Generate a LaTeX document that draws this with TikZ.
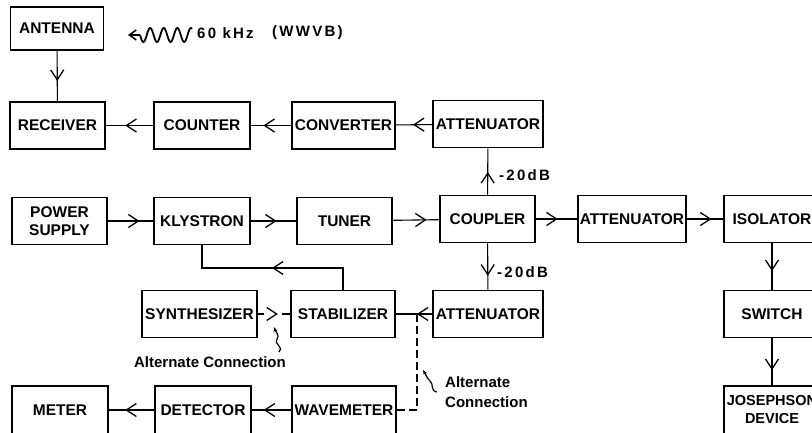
\documentclass[tikz,border=0pt]{standalone}
\usepackage{fontspec}
\setmainfont{Liberation Sans}
\newfontfamily\boxfont{Liberation Sans Bold}
\newfontfamily\lblfont[LetterSpace=15]{Liberation Sans Bold}
\newfontfamily\altfont{Liberation Sans Bold}
\usetikzlibrary{arrows.meta,decorations.markings}
\tikzset{
  box/.style={draw, line width=1.8pt, minimum height=47pt, inner sep=0pt, align=center,
    font=\boxfont\fontsize{15.5}{18}\selectfont},
  conn/.style={line width=1.1pt},
  arr/.style={postaction={decorate}, decoration={markings,
    mark=at position #1 with {\arrow{Straight Barb[length=10pt,width=13pt,line width=1.3pt]}}}},
  arr/.default=0.62,
  lbl/.style={inner sep=0pt, font=\lblfont\fontsize{15}{18}\selectfont},
  alt/.style={inner sep=0pt, align=left, font=\altfont\fontsize{15}{20}\selectfont},
}
\begin{document}
\begin{tikzpicture}[x=1pt,y=-1pt]
\useasboundingbox (0,0) rectangle (812,433);
% row 1
\node[box, minimum width=93pt, minimum height=43pt] (ant) at (57,28.5) {ANTENNA};
% row 2
\node[box, minimum width=95pt] (rec) at (57.5,125.5) {RECEIVER};
\node[box, minimum width=96pt] (cnt) at (202,125.5) {COUNTER};
\node[box, minimum width=103pt] (cnv) at (343.5,125.5) {CONVERTER};
\node[box, minimum width=110pt] (att1) at (488,124) {ATTENUATOR};
% row 3
\node[box, minimum width=95pt] (pow) at (59.5,221) {POWER\\SUPPLY};
\node[box, minimum width=96pt] (kly) at (202,221) {KLYSTRON};
\node[box, minimum width=95pt] (tun) at (344.5,221) {TUNER};
\node[box, minimum width=95pt] (cpl) at (487.5,219) {COUPLER};
\node[box, minimum width=108pt] (att2) at (632,219) {ATTENUATOR};
\node[box, minimum width=96pt] (iso) at (772,219) {ISOLATOR};
% row 4
\node[box, minimum width=115pt] (syn) at (199.5,314) {SYNTHESIZER};
\node[box, minimum width=104pt] (stb) at (343,314) {STABILIZER};
\node[box, minimum width=110pt] (att3) at (488,314) {ATTENUATOR};
\node[box, minimum width=96pt] (swi) at (772,314) {SWITCH};
% row 5
\node[box, minimum width=96pt, minimum height=48pt] (met) at (60,410) {METER};
\node[box, minimum width=96pt, minimum height=48pt] (det) at (203,410) {DETECTOR};
\node[box, minimum width=104pt, minimum height=48pt] (wav) at (344,410) {WAVEMETER};
\node[box, minimum width=96pt, minimum height=48pt, font=\boxfont\fontsize{14.5}{18}\selectfont] (jos) at (772,410) {JOSEPHSON\\DEVICE};

% WWVB signal
\coordinate (wvtip) at (128,35);
\coordinate (wvs) at (140,35);
\draw[conn, -{Straight Barb[length=7pt,width=10pt,line width=1.5pt]}] (wvs) -- (wvtip);
\draw[line width=1.8pt] plot[domain=0:52, samples=120, smooth] ({140+\x},{35+7*sin(\x*26.5)});
\node[lbl, anchor=west] (f60) at (197,33) {60 kHz};
\node[lbl, anchor=west] (wwvb) at (272,33) {(WWVB)};

% connectors
\draw[conn, arr=0.6] (ant) -- (rec);
\draw[conn, arr=0.59] (cnt) -- (rec);
\draw[conn, arr=0.69] (cnv) -- (cnt);
\draw[conn, arr=0.53] (att1) -- (cnv);
\draw[conn, arr=0.7] (pow) -- (kly);
\draw[conn, arr=0.57] (kly) -- (tun);
\draw[conn, arr=0.73] (tun) -- (cpl);
\draw[conn, arr=0.53] (cpl) -- (att2);
\draw[conn, arr=0.68] (att2) -- (iso);
\draw[conn, arr=0.49] (cpl) -- (att1);
\draw[conn, arr=0.7] (cpl) -- (att3);
\draw[conn, arr=0.6] (iso) -- (swi);
\draw[conn, arr=0.68] (swi) -- (jos);
\draw[conn, arr=0.42] (att3) -- (stb);
\draw[conn, arr=0.62, dash pattern=on 6pt off 18pt on 12pt] (syn) -- (stb);
\coordinate (fb) at (0,268);
\draw[conn, arr=0.5] (stb.north) -- (stb.north |- fb) -- (kly.south |- fb) -- (kly.south);
\draw[conn, arr=0.64] (det) -- (met);
\draw[conn, arr=0.7] (wav) -- (det);
\coordinate (jn) at (417,314);
\draw[line width=1.5pt, dash pattern=on 8pt off 4pt] (wav.east) -| (jn);

% labels
\node[lbl, anchor=west] (db1) at (499,175) {-20dB};
\node[lbl, anchor=west] (db2) at (497,272) {-20dB};
\node[alt, anchor=center] (alt1) at (210,362) {Alternate Connection};
\node[alt, anchor=west] (alt2) at (445,392) {Alternate\\Connection};

% squiggle pointers
\coordinate (p1t) at (279,352);
\coordinate (p1h) at (274,327);
\draw[line width=1.2pt, -{Stealth[length=5pt,width=4pt]}] (p1t) .. controls (284,346) and (273,344) .. (277,339) .. controls (280,335) and (276,333) .. (p1h);
\coordinate (p2t) at (437,392);
\coordinate (p2h) at (423,370);
\draw[line width=1.2pt, -{Stealth[length=5pt,width=4pt]}] (p2t) .. controls (430,391) and (434,384) .. (430,381) .. controls (427,378) and (426,375) .. (p2h);
\end{tikzpicture}
\end{document}
